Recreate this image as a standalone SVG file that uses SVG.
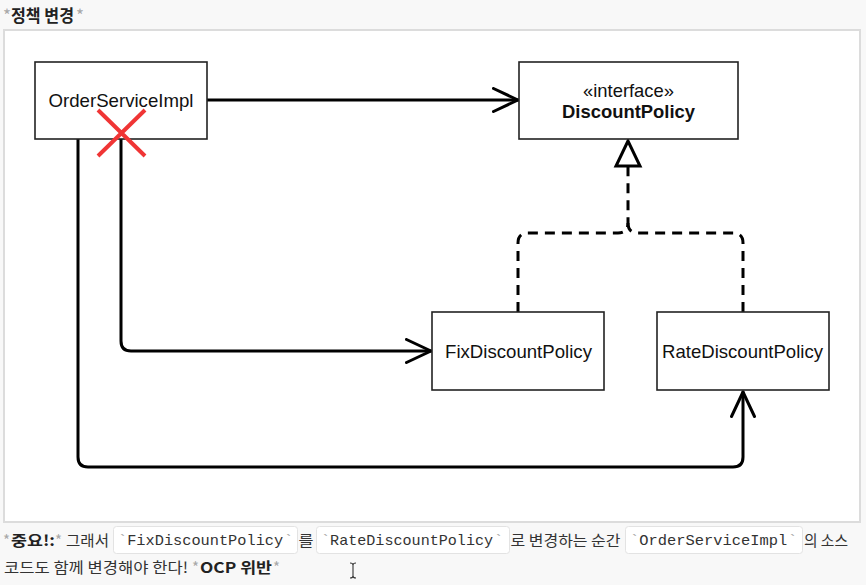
<svg xmlns="http://www.w3.org/2000/svg" width="866" height="585" viewBox="0 0 866 585">
<defs>
<style>
.box{fill:#fff;stroke:#222;stroke-width:1.6}
.lbl{font-family:"Liberation Sans",Arial,sans-serif;font-size:18.5px;fill:#111;text-anchor:middle}
.bold{font-weight:bold}
.con{fill:none;stroke:#000;stroke-width:3;stroke-linejoin:round;stroke-linecap:round}
.dash{fill:none;stroke:#000;stroke-width:3;stroke-dasharray:10 7}
.kr{font-family:"Noto Sans CJK KR","Noto Sans",sans-serif;font-size:15px;fill:#333}
.krb{font-family:"Noto Sans CJK KR","Noto Sans",sans-serif;font-size:15px;font-weight:bold;fill:#222}
.ast{font-family:"Noto Sans CJK KR","Noto Sans",sans-serif;font-size:15px;fill:#a8a8a8}
.code{fill:#fff;stroke:#e3e3e3;stroke-width:1}
.mono{font-family:"Liberation Mono","DejaVu Sans Mono",monospace;font-size:15px;fill:#333}
.tick{font-family:"Liberation Mono","DejaVu Sans Mono",monospace;font-size:15px;fill:#aaa}
</style>
<marker id="open" viewBox="0 0 28 26" refX="26" refY="13" markerWidth="28" markerHeight="26" markerUnits="userSpaceOnUse" orient="auto">
<path d="M1.5,1.5 L26,13 L1.5,24.5" fill="none" stroke="#000" stroke-width="3" stroke-linejoin="round" stroke-linecap="round"/>
</marker>
</defs>
<rect x="0" y="0" width="866" height="585" fill="#f8f8f8"/>
<rect x="4" y="30" width="856" height="492" fill="#fff" stroke="#dcdcdc" stroke-width="2"/>

<g id="title">
<text x="3" y="22" class="ast" style="font-size:17px">*</text>
<text x="11" y="22" class="krb" style="font-size:17px" textLength="63" lengthAdjust="spacingAndGlyphs">정책 변경</text>
<text x="76" y="22" class="ast" style="font-size:17px">*</text>
</g>

<g id="connectors">
<path class="con" d="M207,100 H518" marker-end="url(#open)"/>
<path class="con" d="M121,139 V341 Q121,351 131,351 H431" marker-end="url(#open)"/>
<path class="con" d="M78,139 V457 Q78,467 88,467 H733 Q743,467 743,457 V392" marker-end="url(#open)"/>
<path class="dash" d="M518,312 V243 Q518,233 528,233 H618 Q628,233 628,223 V167"/>
<path class="dash" d="M743,312 V243 Q743,233 733,233 H638 Q628,233 628,223"/>
<polygon points="628,141 616,166 640,166" fill="#fff" stroke="#000" stroke-width="3" stroke-linejoin="miter"/>
</g>

<g id="orderServiceImpl">
<rect class="box" x="35" y="62" width="172" height="77"/>
<text class="lbl" x="121" y="107" textLength="145" lengthAdjust="spacingAndGlyphs">OrderServiceImpl</text>
<path d="M98,110 L145,156 M145,110 L98,156" stroke="#f03535" stroke-width="4" fill="none"/>
</g>

<g id="discountPolicy">
<rect class="box" x="519" y="62" width="219" height="77"/>
<text class="lbl" x="628.5" y="97" textLength="91" lengthAdjust="spacingAndGlyphs">«interface»</text>
<text class="lbl bold" x="628.5" y="118" textLength="133" lengthAdjust="spacingAndGlyphs">DiscountPolicy</text>
</g>

<g id="fixDiscountPolicy">
<rect class="box" x="432" y="312" width="172" height="78"/>
<text class="lbl" x="518.5" y="358" textLength="147" lengthAdjust="spacingAndGlyphs">FixDiscountPolicy</text>
</g>

<g id="rateDiscountPolicy">
<rect class="box" x="657" y="312" width="172" height="78"/>
<text class="lbl" x="742.5" y="358" textLength="161" lengthAdjust="spacingAndGlyphs">RateDiscountPolicy</text>
</g>

<g id="note">
<text x="3" y="546" class="ast">*</text>
<text x="11" y="546" class="krb" textLength="44" lengthAdjust="spacingAndGlyphs">중요!:</text>
<text x="55" y="546" class="ast">*</text>
<text x="66" y="546" class="kr" textLength="43" lengthAdjust="spacingAndGlyphs">그래서</text>
<rect class="code" x="113.5" y="526.5" width="184" height="27" rx="3"/>
<text x="118" y="545" class="tick">`</text>
<text x="127.2" y="545" class="mono" textLength="156" lengthAdjust="spacingAndGlyphs">FixDiscountPolicy</text>
<text x="284" y="545" class="tick">`</text>
<text x="298.5" y="546" class="kr" textLength="15" lengthAdjust="spacingAndGlyphs">를</text>
<rect class="code" x="316.5" y="526.5" width="193" height="27" rx="3"/>
<text x="321" y="545" class="tick">`</text>
<text x="330.1" y="545" class="mono" textLength="163" lengthAdjust="spacingAndGlyphs">RateDiscountPolicy</text>
<text x="494" y="545" class="tick">`</text>
<text x="510.5" y="546" class="kr" textLength="110" lengthAdjust="spacingAndGlyphs">로 변경하는 순간</text>
<rect class="code" x="625.5" y="526.5" width="177" height="27" rx="3"/>
<text x="630" y="545" class="tick">`</text>
<text x="639.3" y="545" class="mono" textLength="148" lengthAdjust="spacingAndGlyphs">OrderServiceImpl</text>
<text x="788" y="545" class="tick">`</text>
<text x="804" y="546" class="kr" textLength="44" lengthAdjust="spacingAndGlyphs">의 소스</text>
<text x="4" y="573" class="kr" textLength="184" lengthAdjust="spacingAndGlyphs">코드도 함께 변경해야 한다!</text>
<text x="192" y="573" class="ast">*</text>
<text x="200" y="573" class="krb" textLength="72" lengthAdjust="spacingAndGlyphs">OCP 위반</text>
<text x="273" y="573" class="ast">*</text>
<path d="M350,563 Q353,563 353,565 Q353,563 356,563 M353,565 V576 M350,578 Q353,578 353,576 Q353,578 356,578" fill="none" stroke="#333" stroke-width="1.1"/>
</g>
</svg>
